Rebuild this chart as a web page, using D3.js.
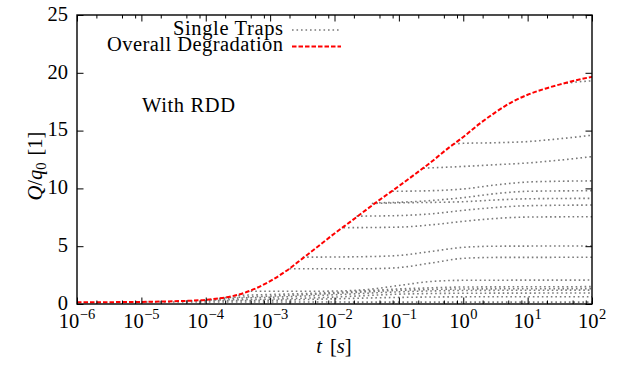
<!DOCTYPE html>
<html>
<head>
<meta charset="utf-8">
<script src="https://cdn.jsdelivr.net/npm/d3@7"></script>
<style>
	body { margin: 0; background: #fff; }
	svg text { font-family: "Liberation Serif", "Times New Roman", serif; fill: #000; }
</style>
</head>
<body>
<div id="chart"></div>
<script>
/* DATA (time in seconds, Q/q0) */

// overall degradation (red dashed)
var overallT = [ 1e-6, 1e-5, 3.2e-5, 1e-4, 1.8e-4, 3.2e-4, 5.6e-4, 1e-3, 1.8e-3, 3.2e-3, 5.6e-3, 1e-2, 1.8e-2, 3.2e-2, 5.6e-2, 0.1, 0.18, 0.32, 0.56, 1, 1.8, 3.2, 5.6, 10, 18, 32, 56, 100 ];
var overallQ = [ 0.15, 0.18, 0.24, 0.36, 0.52, 0.8, 1.28, 1.98, 2.88, 3.95, 5.0, 6.1, 7.15, 8.2, 9.2, 10.2, 11.25, 12.3, 13.4, 14.45, 15.6, 16.6, 17.45, 18.1, 18.6, 19.0, 19.35, 19.65 ];

// single traps (grey dotted), each one a list of [t, Q/q0]
var trapA = [ [ 40, 19.1 ], [ 56, 19.2 ], [ 100, 19.3 ] ];
var trapB = [ [ 0.71, 13.85 ], [ 1, 13.9 ], [ 3.2, 13.95 ], [ 10, 14.05 ], [ 32, 14.3 ], [ 100, 14.6 ] ];
var trapC = [ [ 0.24, 11.75 ], [ 1, 11.9 ], [ 3.2, 12.05 ], [ 10, 12.2 ], [ 32, 12.45 ], [ 100, 12.75 ] ];
var trapD = [ [ 0.079, 9.75 ], [ 0.32, 9.8 ], [ 1, 9.95 ], [ 3.2, 10.3 ], [ 10, 10.55 ], [ 32, 10.62 ], [ 100, 10.65 ] ];
var trapE = [ [ 0.042, 8.75 ], [ 0.1, 8.8 ], [ 0.32, 8.95 ], [ 1, 9.2 ], [ 3.2, 9.55 ], [ 10, 9.75 ], [ 100, 9.8 ] ];
var trapF = [ [ 0.038, 8.7 ], [ 0.1, 8.75 ], [ 1, 8.85 ], [ 3.2, 9.0 ], [ 10, 9.1 ], [ 100, 9.14 ] ];
var trapG = [ [ 0.022, 7.6 ], [ 0.1, 7.65 ], [ 0.32, 7.8 ], [ 1, 8.1 ], [ 3.2, 8.35 ], [ 10, 8.5 ], [ 100, 8.56 ] ];
var trapH = [ [ 0.0138, 6.6 ], [ 0.1, 6.65 ], [ 0.32, 6.85 ], [ 1, 7.15 ], [ 3.2, 7.4 ], [ 10, 7.52 ], [ 100, 7.55 ] ];
var trapI = [ [ 0.0032, 4.05 ], [ 0.032, 4.1 ], [ 0.1, 4.2 ], [ 0.32, 4.55 ], [ 1, 4.9 ], [ 3.2, 5.0 ], [ 100, 5.02 ] ];
var trapJ = [ [ 0.002, 3.05 ], [ 0.032, 3.05 ], [ 0.1, 3.15 ], [ 0.32, 3.55 ], [ 1, 3.95 ], [ 3.2, 4.03 ], [ 100, 4.04 ] ];
var trapK = [ [ 5e-4, 1.1 ], [ 3.2e-3, 1.1 ], [ 0.01, 1.12 ], [ 0.032, 1.25 ], [ 0.1, 1.6 ], [ 0.32, 1.95 ], [ 1, 2.05 ], [ 100, 2.07 ] ];
var trapL = [ [ 3.2e-4, 0.75 ], [ 1e-3, 0.82 ], [ 0.01, 1.0 ], [ 0.032, 1.15 ], [ 0.1, 1.3 ], [ 0.32, 1.4 ], [ 1, 1.47 ], [ 100, 1.5 ] ];
var trapM = [ [ 2e-4, 0.55 ], [ 1e-3, 0.68 ], [ 0.01, 0.92 ], [ 0.1, 1.18 ], [ 1, 1.3 ], [ 100, 1.33 ] ];
var trapN = [ [ 1.6e-4, 0.48 ], [ 1e-3, 0.58 ], [ 0.01, 0.8 ], [ 0.1, 1.05 ], [ 1, 1.17 ], [ 100, 1.2 ] ];
var trapO = [ [ 1e-4, 0.35 ], [ 1e-3, 0.42 ], [ 0.01, 0.6 ], [ 0.1, 0.85 ], [ 1, 0.93 ], [ 100, 0.95 ] ];
var trapP = [ [ 5e-5, 0.28 ], [ 1e-3, 0.32 ], [ 0.01, 0.45 ], [ 0.1, 0.57 ], [ 1, 0.62 ], [ 100, 0.63 ] ];
var trapQ = [ [ 1e-5, 0.17 ], [ 1e-3, 0.17 ], [ 1, 0.16 ], [ 100, 0.16 ] ];
var singleTraps = [ trapA, trapB, trapC, trapD, trapE, trapF, trapG, trapH, trapI, trapJ, trapK, trapL, trapM, trapN, trapO, trapP, trapQ ];

// tick values
var xExponents = [ -6, -5, -4, -3, -2, -1, 0, 1, 2 ];
var xMinorMantissa = [ 2, 5, 8 ];
var yTicks = [ 0, 5, 10, 15, 20, 25 ];

/* CHART */

var width = 621,
	height = 365,
	margins = { top: 15, right: 29, bottom: 61, left: 77 },
	plotW = width - margins.left - margins.right,
	plotH = height - margins.top - margins.bottom,
	fontSize = "20.5px";

var svg = d3.select( "#chart" ).append( "svg" )
	.attr( "width", width )
	.attr( "height", height );

var g = svg.append( "g" )
	.attr( "transform", "translate(" + margins.left + "," + margins.top + ")" );

var x = d3.scaleLog().domain( [ 1e-6, 1e2 ] ).range( [ 0, plotW ] ),
	y = d3.scaleLinear().domain( [ 0, 25 ] ).range( [ plotH, 0 ] );

// decade + minor tick positions
var majorTicks = xExponents.map( function ( e ) { return Math.pow( 10, e ); } );
var minorTicks = [];
xExponents.slice( 0, -1 ).forEach( function ( e ) {
	xMinorMantissa.forEach( function ( m ) { minorTicks.push( m * Math.pow( 10, e ) ); } );
} );

g.append( "clipPath" ).attr( "id", "plot-clip" )
	.append( "rect" ).attr( "width", plotW ).attr( "height", plotH );

// lines
var line = d3.line()
	.x( function ( d ) { return x( d[ 0 ] ); } )
	.y( function ( d ) { return y( d[ 1 ] ); } )
	.curve( d3.curveMonotoneX );

var lines = g.append( "g" ).attr( "clip-path", "url(#plot-clip)" );

lines.selectAll( ".trap" )
	.data( singleTraps )
	.enter().append( "path" )
	.attr( "class", "trap" )
	.attr( "d", line )
	.attr( "fill", "none" )
	.attr( "stroke", "#7a7a7a" )
	.attr( "stroke-width", 1.6 )
	.attr( "stroke-dasharray", "1.6,2.9" );

var overall = overallT.map( function ( t, i ) { return [ t, overallQ[ i ] ]; } );

lines.append( "path" )
	.datum( overall )
	.attr( "d", line )
	.attr( "fill", "none" )
	.attr( "stroke", "#ff0000" )
	.attr( "stroke-width", 2 )
	.attr( "stroke-dasharray", "4.5,2" );

// ticks on all four sides (pointing inward)
function tickAxis( axis, tr ) {
	var a = g.append( "g" ).attr( "transform", tr ).call( axis );
	a.select( ".domain" ).remove();
	a.selectAll( "line" ).attr( "stroke", "#000" ).attr( "stroke-width", 1 );
	a.selectAll( "text" ).remove();
}
tickAxis( d3.axisBottom( x ).tickValues( majorTicks ).tickSize( -6.5 ), "translate(0," + plotH + ")" );
tickAxis( d3.axisBottom( x ).tickValues( minorTicks ).tickSize( -3.5 ), "translate(0," + plotH + ")" );
tickAxis( d3.axisTop( x ).tickValues( majorTicks ).tickSize( -6.5 ), "translate(0,0)" );
tickAxis( d3.axisTop( x ).tickValues( minorTicks ).tickSize( -3.5 ), "translate(0,0)" );
tickAxis( d3.axisLeft( y ).tickValues( yTicks ).tickSize( -6.5 ), "translate(0,0)" );
tickAxis( d3.axisRight( y ).tickValues( yTicks ).tickSize( -6.5 ), "translate(" + plotW + ",0)" );

// frame
g.append( "rect" )
	.attr( "width", plotW )
	.attr( "height", plotH )
	.attr( "fill", "none" )
	.attr( "stroke", "#000" )
	.attr( "stroke-width", 1.4 );

// x tick labels: 10^e
var xLab = g.selectAll( ".xlab" )
	.data( xExponents )
	.enter().append( "text" )
	.attr( "class", "xlab" )
	.attr( "x", function ( e ) { return x( Math.pow( 10, e ) ); } )
	.attr( "y", plotH + 23.5 )
	.attr( "text-anchor", "middle" )
	.style( "font-size", fontSize );
xLab.append( "tspan" ).text( "10" );
xLab.append( "tspan" )
	.attr( "dy", -8.5 )
	.attr( "dx", 0.5 )
	.style( "font-size", "14.5px" )
	.text( function ( e ) { return e < 0 ? "\u2212" + Math.abs( e ) : e; } );

// y tick labels
g.selectAll( ".ylab" )
	.data( yTicks )
	.enter().append( "text" )
	.attr( "class", "ylab" )
	.attr( "x", -9 )
	.attr( "y", function ( d ) { return y( d ) + 5.8; } )
	.attr( "text-anchor", "end" )
	.style( "font-size", fontSize )
	.text( function ( d ) { return d; } );

// x axis title
var xTitle = svg.append( "text" )
	.attr( "x", 334 )
	.attr( "y", 353 )
	.attr( "text-anchor", "middle" )
	.style( "font-size", fontSize );
xTitle.append( "tspan" ).style( "font-style", "italic" ).text( "t" );
xTitle.append( "tspan" ).attr( "dx", 8 ).text( "[" );
xTitle.append( "tspan" ).style( "font-style", "italic" ).text( "s" );
xTitle.append( "tspan" ).text( "]" );

// y axis title
var yTitle = svg.append( "text" )
	.attr( "transform", "translate(42,166) rotate(-90)" )
	.attr( "text-anchor", "middle" )
	.style( "font-size", fontSize );
yTitle.append( "tspan" ).style( "font-style", "italic" ).text( "Q" );
yTitle.append( "tspan" ).text( "/" );
yTitle.append( "tspan" ).style( "font-style", "italic" ).text( "q" );
yTitle.append( "tspan" ).attr( "dy", 4 ).style( "font-size", "14.5px" ).text( "0" );
yTitle.append( "tspan" ).attr( "dy", -4 ).attr( "dx", 7 ).text( "[1]" );

// legend
var legend = [
	{ label: "Single Traps", y: 34.5, len: 110, stroke: "#7a7a7a", w: 1.6, dash: "1.6,2.9" },
	{ label: "Overall Degradation", y: 51, len: 176, stroke: "#ff0000", w: 2, dash: "4.5,2" }
];
legend.forEach( function ( l ) {
	svg.append( "text" )
		.attr( "x", 283 )
		.attr( "y", l.y )
		.attr( "text-anchor", "end" )
		.attr( "textLength", l.len )
		.attr( "lengthAdjust", "spacing" )
		.style( "font-size", fontSize )
		.text( l.label );
	svg.append( "line" )
		.attr( "x1", 292 ).attr( "x2", 341 )
		.attr( "y1", l.y - 4.5 ).attr( "y2", l.y - 4.5 )
		.attr( "stroke", l.stroke )
		.attr( "stroke-width", l.w )
		.attr( "stroke-dasharray", l.dash );
} );

// annotation
svg.append( "text" )
	.attr( "x", 142 )
	.attr( "y", 111.5 )
	.attr( "textLength", 93 )
	.attr( "lengthAdjust", "spacing" )
	.style( "font-size", fontSize )
	.text( "With RDD" );
</script>
</body>
</html>
